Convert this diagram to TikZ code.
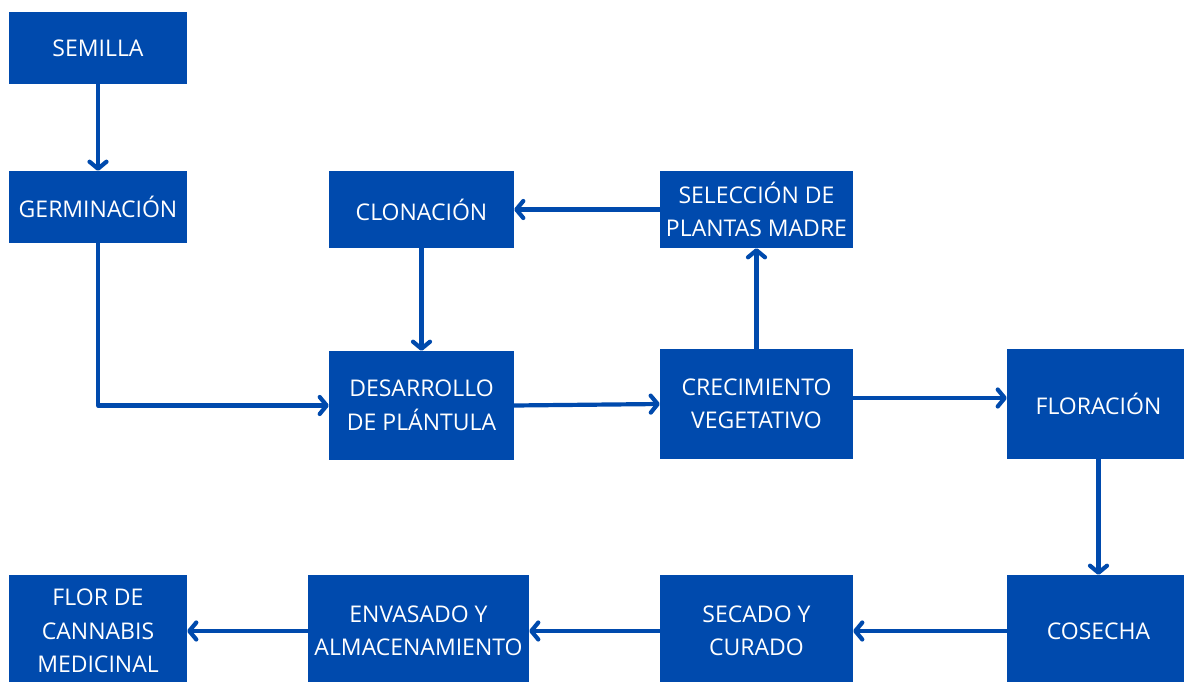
\documentclass[tikz,border=0pt]{standalone}
\usepackage{fontspec}
\setmainfont{Open Sans}
\usetikzlibrary{arrows.meta,calc}
\definecolor{boxblue}{RGB}{0,74,173}
\tikzset{
  box/.style={fill=boxblue, text=white, inner sep=0pt, align=center,
    font=\fontsize{23}{33.5}\selectfont},
  flow/.style={draw=boxblue, line width=4.2pt, line cap=round, line join=round,
    -{Straight Barb[length=7pt,width=17pt,line cap=round,line join=round]}}
}
\begin{document}
\begin{tikzpicture}[x=1pt,y=-1pt]
\useasboundingbox (0,0) rectangle (1184,682);
\clip (0,0) rectangle (1184,682);
\node[box, minimum width=178pt, minimum height=72pt] (sem) at (98,48) {SEMILLA};
\node[box, minimum width=178pt, minimum height=72pt] (ger) at (98,207) {GERMINACIÓN};
\node[box, minimum width=185pt, minimum height=77pt] (clo) at (421.5,209.5) {CLONACIÓN};
\node[box, minimum width=193pt, minimum height=77pt] (sel) at (756.5,209.5) {SELECCIÓN DE\\PLANTAS MADRE};
\node[box, minimum width=185pt, minimum height=109pt] (des) at (421.5,405.5) {DESARROLLO\\DE PLÁNTULA};
\node[box, minimum width=193pt, minimum height=110pt] (cre) at (756.5,404) {CRECIMIENTO\\VEGETATIVO};
\node[box, minimum width=183pt, minimum height=110pt] (flo) at (1098.5,404) {FLORACIÓN};
\node[box, minimum width=183pt, minimum height=112pt] (cos) at (1098.5,631) {COSECHA};
\node[box, minimum width=193pt, minimum height=112pt] (sec) at (756.5,631) {SECADO Y\\CURADO};
\node[box, minimum width=221pt, minimum height=112pt] (env) at (418.5,631) {ENVASADO Y\\ALMACENAMIENTO};
\node[box, minimum width=178pt, minimum height=112pt] (fin) at (98,631) {FLOR DE\\CANNABIS\\MEDICINAL};
\coordinate (creout) at ($(cre.east)+(0,-6)$);
\draw[flow] (sem.south) -- (ger.north);
\draw[flow] (ger.south) |- (des.west);
\draw[flow] (clo.south) -- (des.north);
\draw[flow] (des.east) -- (cre.west);
\draw[flow] (cre.north) -- (sel.south);
\draw[flow] (sel.west) -- (clo.east);
\draw[flow] (creout) -- (creout -| flo.west);
\draw[flow] (flo.south) -- (cos.north);
\draw[flow] (cos.west) -- (sec.east);
\draw[flow] (sec.west) -- (env.east);
\draw[flow] (env.west) -- (fin.east);
\end{tikzpicture}
\end{document}
